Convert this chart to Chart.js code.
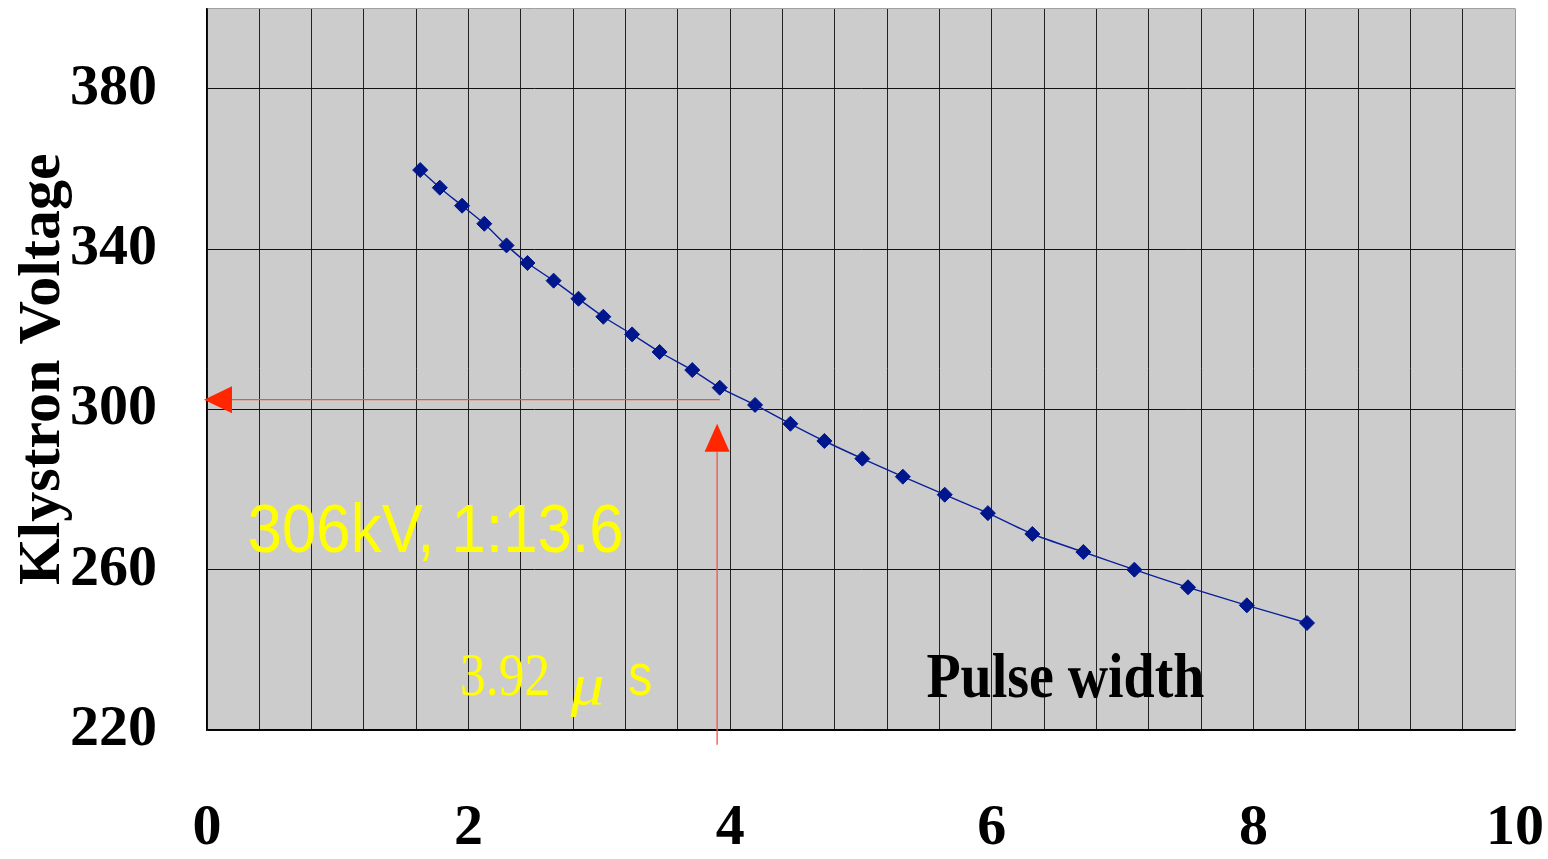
<!DOCTYPE html>
<html>
<head>
<meta charset="utf-8">
<title>Klystron Voltage vs Pulse width</title>
<script src="https://cdn.jsdelivr.net/npm/chart.js@4.4.0/dist/chart.umd.min.js"></script>
<style>
  html, body { margin: 0; padding: 0; background: #fff; }
  #wrap { width: 1548px; height: 859px; }
</style>
</head>
<body>
<div id="wrap"><canvas id="myChart"></canvas></div>
<script>
// pulse width (us)
var pulse_width = [1.63, 1.78, 1.95, 2.12, 2.29, 2.45, 2.65, 2.84, 3.03, 3.25, 3.46, 3.71, 3.92, 4.19, 4.46, 4.72,
    5.01, 5.32, 5.64, 5.97, 6.31, 6.70, 7.09, 7.50, 7.95, 8.41]
// klystron voltage (kV)
var voltage = [359.7, 355.3, 350.8, 346.3, 340.9, 336.5, 332.1, 327.6, 323.1, 318.7, 314.3, 309.8, 305.4, 301.1, 296.4, 292.1,
    287.7, 283.2, 278.7, 274.1, 268.9, 264.4, 260.0, 255.6, 251.1, 246.7]

var x_labels = [0, 2, 4, 6, 8, 10]
var y_labels = [220, 260, 300, 340, 380]
var x_grid_step = 0.4
var y_top = 400

// the red reading arrows, in data units: [x1, y1, x2(tip), y2(tip)]
var arrow_h = [3.92, 302.4, 0, 302.4]
var arrow_v = [3.90, 216.3, 3.90, 296.4]

var note_kv = '306kV, 1:13.6'
var note_us = ['3.92', '\u03bc', 's']
var x_title = 'Pulse width'
var y_title = 'Klystron Voltage'

var points = []
for (var i in pulse_width) {
    points.push({ x: pulse_width[i], y: voltage[i] })
}

function fitText(ctx, text, x, y, font, color, w) {
    ctx.save()
    ctx.font = font
    ctx.fillStyle = color
    ctx.textBaseline = 'alphabetic'
    var m = ctx.measureText(text).width
    ctx.translate(x, y)
    ctx.scale(w / m, 1)
    ctx.fillText(text, 0, 0)
    ctx.restore()
}

function arrow(ctx, x1, y1, x2, y2, len, half) {
    var ang = Math.atan2(y2 - y1, x2 - x1)
    var bx = x2 - Math.cos(ang) * len
    var by = y2 - Math.sin(ang) * len
    ctx.save()
    ctx.strokeStyle = '#f2553f'
    ctx.lineWidth = 1.3
    ctx.beginPath()
    ctx.moveTo(x1, y1)
    ctx.lineTo(bx, by)
    ctx.stroke()
    ctx.fillStyle = '#ff2600'
    ctx.beginPath()
    ctx.moveTo(x2, y2)
    ctx.lineTo(bx - Math.sin(ang) * half, by + Math.cos(ang) * half)
    ctx.lineTo(bx + Math.sin(ang) * half, by - Math.cos(ang) * half)
    ctx.closePath()
    ctx.fill()
    ctx.restore()
}

var overlay = {
    id: 'overlay',
    beforeDraw: function (chart) {
        var a = chart.chartArea
        var ctx = chart.ctx
        ctx.save()
        ctx.fillStyle = '#cccccc'
        ctx.fillRect(a.left, a.top, a.right - a.left, a.bottom - a.top)
        ctx.restore()
    },
    afterDraw: function (chart) {
        var ctx = chart.ctx
        var xs = chart.scales.x
        var ys = chart.scales.y
        arrow(ctx, xs.getPixelForValue(arrow_h[0]), ys.getPixelForValue(arrow_h[1]),
            xs.getPixelForValue(arrow_h[2]) - 3, ys.getPixelForValue(arrow_h[3]), 28, 13.5)
        arrow(ctx, xs.getPixelForValue(arrow_v[0]), ys.getPixelForValue(arrow_v[1]),
            xs.getPixelForValue(arrow_v[2]), ys.getPixelForValue(arrow_v[3]), 28, 12.5)

        fitText(ctx, note_kv, xs.getPixelForValue(0.31), ys.getPixelForValue(264.4),
            '68px "Liberation Sans"', '#ffff00', 376)
        var by = ys.getPixelForValue(228.7)
        fitText(ctx, note_us[0], xs.getPixelForValue(1.935), by, '62px "Liberation Serif"', '#ffff00', 90)
        fitText(ctx, note_us[1], xs.getPixelForValue(2.78), by + 9, 'italic 60px "Liberation Serif"', '#ffff00', 34)
        fitText(ctx, note_us[2], xs.getPixelForValue(3.22), by, '60px "Liberation Sans"', '#ffff00', 24)

        fitText(ctx, x_title, xs.getPixelForValue(5.5), ys.getPixelForValue(228.2),
            'bold 63px "Liberation Serif"', '#000000', 278)
    }
}

let myChart = document.getElementById('myChart').getContext('2d')
let voltChart = new Chart(myChart, {
    type: 'scatter',
    data: {
        datasets: [{
            label: 'Klystron Voltage',
            data: points,
            showLine: true,
            borderColor: '#0a1f9a',
            borderWidth: 1.4,
            tension: 0.25,
            pointStyle: 'rectRot',
            pointRadius: 7.5,
            pointHoverRadius: 7.5,
            pointBackgroundColor: '#00168c',
            pointBorderColor: '#00168c',
            pointBorderWidth: 1
        }]
    },
    plugins: [overlay],
    options: {
        responsive: true,
        maintainAspectRatio: false,
        animation: false,
        layout: { padding: { top: 7, right: 33, left: 0, bottom: 0 } },
        plugins: {
            legend: { display: false },
            tooltip: { enabled: false }
        },
        scales: {
            x: {
                type: 'linear',
                min: 0,
                max: 10,
                afterBuildTicks: function (scale) {
                    var t = []
                    for (var k = 0; k <= Math.round(10 / x_grid_step); k++) {
                        t.push({ value: Math.round(k * x_grid_step * 100) / 100 })
                    }
                    scale.ticks = t
                },
                afterFit: function (scale) {
                    scale.height = 129
                    scale.paddingLeft = 0
                    scale.paddingRight = 0
                },
                ticks: {
                    autoSkip: false,
                    maxRotation: 0,
                    padding: 64,
                    color: '#000',
                    font: { family: '"Liberation Serif", "Times New Roman", serif', size: 58, weight: 'bold' },
                    callback: function (v) { return x_labels.includes(v) ? String(v) : '' }
                },
                grid: {
                    drawTicks: false,
                    lineWidth: 1,
                    color: function (c) { return c.tick && c.tick.value === 10 ? '#999999' : '#222222' }
                },
                border: { display: true, color: '#000', width: 1.5 }
            },
            y: {
                type: 'linear',
                min: y_labels[0],
                max: y_top,
                afterBuildTicks: function (scale) {
                    var t = y_labels.map(function (v) { return { value: v } })
                    t.push({ value: y_top })
                    scale.ticks = t
                },
                afterFit: function (scale) {
                    scale.width = 207
                    scale.paddingTop = 0
                    scale.paddingBottom = 0
                },
                ticks: {
                    padding: 50,
                    color: '#000',
                    font: { family: '"Liberation Serif", "Times New Roman", serif', size: 58, weight: 'bold' },
                    callback: function (v) { return y_labels.includes(v) ? String(v) : '' }
                },
                title: {
                    display: true,
                    text: y_title,
                    color: '#000',
                    padding: { top: 7, bottom: 0 },
                    font: { family: '"Liberation Serif", "Times New Roman", serif', size: 60, weight: 'bold' }
                },
                grid: {
                    drawTicks: false,
                    lineWidth: 1,
                    color: function (c) { return c.tick && c.tick.value === y_top ? '#a0a0a0' : '#111111' }
                },
                border: { display: true, color: '#000', width: 1.5 }
            }
        }
    }
});
</script>
</body>
</html>
